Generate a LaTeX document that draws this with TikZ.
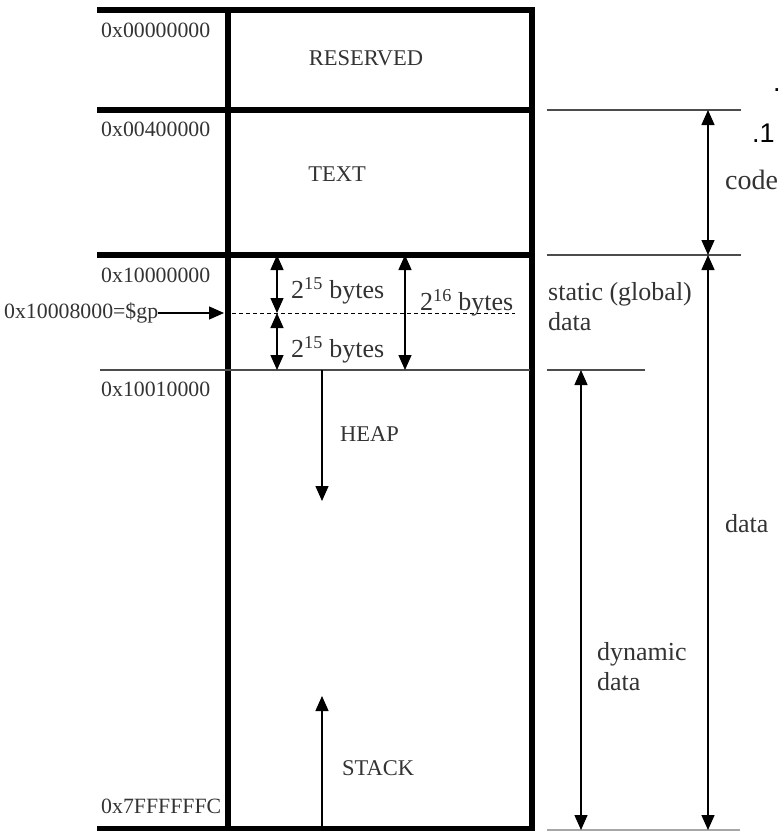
\documentclass[tikz,border=0pt]{standalone}
\usepackage{fontspec}
\setmainfont{Liberation Serif}
\newfontfamily\cutfont{Liberation Sans}
\usetikzlibrary{arrows.meta}

\begin{document}
\begin{tikzpicture}[x=1pt,y=-1pt,>={Triangle[length=15pt,width=13pt]},
    font=\fontsize{21.8}{25}\selectfont,
    wall/.style={line width=5.5pt,line cap=rect},
    rule/.style={line width=1.4pt,black!70},
    dim/.style={line width=1.4pt,<->},
    addr/.style={anchor=west,inner sep=0pt,text=black!80},
    lbl/.style={anchor=west,inner sep=0pt,text=black!80,align=left,
        font=\fontsize{26}{30}\selectfont},
    seg/.style={inner sep=0pt,text=black!80,font=\fontsize{22.5}{26}\selectfont}]

\useasboundingbox (0,0) rectangle (781,831);

% Memory box
\draw[wall] (100,10) -- (532,10) -- (532,829) -- (100,829);
\draw[wall] (228,10) -- (228,829);
\draw[wall] (100,110) -- (532,110);
\draw[wall] (100,255) -- (532,255);
\draw[rule] (100,370) -- (530,370);
\draw[line width=1pt,dash pattern=on 4pt off 3pt] (232,313) -- (515,313);

% Addresses
\node[addr] (a0) at (101,30) {0x00000000};
\node[addr] (a1) at (101,129) {0x00400000};
\node[addr] (a2) at (101,275) {0x10000000};
\node[addr] (gp) at (4,313) {0x10008000=\$gp};
\node[addr] (a3) at (101,389) {0x10010000};
\node[addr] (a4) at (101,806) {0x7FFFFFFC};
\coordinate (gpend) at (224,313);
\draw[line width=1.4pt,->] (gp.east) -- (gpend);

% Segments
\node[seg] (res) at (366,58) {RESERVED};
\node[seg] (txt) at (337,174) {TEXT};
\node[seg,anchor=west] (heap) at (340,434) {HEAP};
\node[seg,anchor=west] (stack) at (342,768) {STACK};

% Static area
\coordinate (s0) at (277,255);
\coordinate (s1) at (277,313);
\coordinate (s2) at (277,370);
\coordinate (t0) at (405,255);
\coordinate (t1) at (405,370);
\draw[dim] (s0) -- (s1);
\draw[dim] (s1) -- (s2);
\draw[dim] (t0) -- (t1);
\node[lbl] (b1) at (291,291) {2\textsuperscript{15} bytes};
\node[lbl] (b2) at (291,350) {2\textsuperscript{15} bytes};
\node[lbl] (b3) at (420,303) {2\textsuperscript{16} bytes};

% Heap and stack
\coordinate (h0) at (322,370);
\coordinate (h1) at (322,501);
\coordinate (k0) at (322,829);
\coordinate (k1) at (322,696);
\draw[line width=1.4pt,->] (h0) -- (h1);
\draw[line width=1.4pt,->] (k0) -- (k1);

% Right hand side
\draw[rule] (547,110) -- (741,110);
\draw[rule] (547,255) -- (741,255);
\draw[rule] (547,370) -- (645,370);
\draw[rule,black!35] (547,830) -- (740,830);
\coordinate (c0) at (708,110);
\coordinate (c1) at (708,255);
\coordinate (c2) at (708,830);
\coordinate (d0) at (581,370);
\coordinate (d1) at (581,830);
\draw[dim] (c0) -- (c1);
\draw[dim] (c1) -- (c2);
\draw[dim] (d0) -- (d1);
\node[lbl] (static) at (548,307) {static (global)\\data};
\node[lbl] (dyn) at (597,667) {dynamic\\data};
\node[lbl,font=\fontsize{28}{32}\selectfont] (code) at (725,180) {code};
\node[lbl] (data) at (725,524) {data};
\node[anchor=west,inner sep=0pt,font=\cutfont\fontsize{27}{30}\selectfont] (cut1) at (752,133) {.1};
\node[anchor=west,inner sep=0pt,font=\cutfont\fontsize{27}{30}\selectfont] (cut2) at (773,90) {.};

\end{tikzpicture}
\end{document}
